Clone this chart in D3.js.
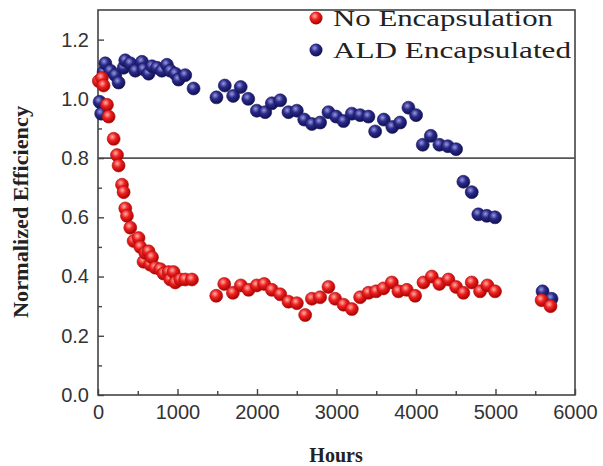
<!DOCTYPE html>
<html>
<head>
<meta charset="utf-8">
<script src="https://cdn.jsdelivr.net/npm/d3@7"></script>
<style>
  body { margin: 0; background: #fff; }
  svg { display: block; }
</style>
</head>
<body>
<div id="graph"></div>
<script>
// hours / normalized efficiency
var noEncHours = [10, 48, 70, 113, 134, 197, 239, 259, 302, 322, 343, 364, 406, 448, 510, 532, 573, 595, 636, 657, 679, 720, 783, 825, 888, 909, 950, 972, 1035, 1097, 1182,
  1487, 1588, 1697, 1797, 1894, 1998, 2090, 2187, 2292, 2396, 2501, 2606, 2690, 2794, 2899, 2983, 3088, 3193, 3297, 3402, 3498, 3590, 3696, 3779, 3884, 3989,
  4094, 4199, 4294, 4408, 4504, 4596, 4701, 4806, 4898, 4994, 5580, 5692];
var noEncValues = [1.06, 1.07, 1.045, 0.98, 0.94, 0.865, 0.81, 0.775, 0.71, 0.685, 0.63, 0.605, 0.565, 0.52, 0.53, 0.50, 0.45, 0.48, 0.485, 0.44, 0.465, 0.43, 0.425, 0.41, 0.415, 0.39, 0.415, 0.38, 0.39, 0.39, 0.39,
  0.335, 0.375, 0.345, 0.37, 0.355, 0.37, 0.375, 0.355, 0.34, 0.315, 0.31, 0.27, 0.325, 0.33, 0.365, 0.325, 0.305, 0.29, 0.33, 0.345, 0.35, 0.36, 0.38, 0.35, 0.355, 0.335,
  0.38, 0.40, 0.375, 0.39, 0.365, 0.345, 0.38, 0.35, 0.37, 0.35, 0.32, 0.30];

var aldHours = [20, 40, 70, 92, 155, 217, 259, 322, 343, 406, 469, 553, 573, 636, 679, 742, 804, 867, 909, 972, 1013, 1097, 1202,
  1490, 1595, 1700, 1795, 1890, 1998, 2103, 2187, 2292, 2396, 2501, 2594, 2690, 2794, 2899, 2996, 3088, 3193, 3297, 3402, 3486, 3595, 3702, 3800, 3905, 4001,
  4085, 4186, 4294, 4400, 4504, 4596, 4701, 4784, 4890, 4994, 5592, 5705];
var aldValues = [0.99, 0.95, 1.09, 1.12, 1.095, 1.08, 1.055, 1.105, 1.13, 1.12, 1.095, 1.125, 1.10, 1.085, 1.11, 1.105, 1.095, 1.115, 1.095, 1.085, 1.065, 1.08, 1.035,
  1.005, 1.045, 1.01, 1.04, 1.0, 0.96, 0.955, 0.985, 0.995, 0.955, 0.96, 0.93, 0.915, 0.92, 0.955, 0.94, 0.925, 0.95, 0.945, 0.94, 0.89, 0.93, 0.905, 0.92, 0.97, 0.945,
  0.845, 0.875, 0.845, 0.84, 0.83, 0.72, 0.685, 0.61, 0.605, 0.60, 0.35, 0.325];

var seriesNames = ["No Encapsulation", "ALD Encapsulated"];
var xTicks = [0, 1000, 2000, 3000, 4000, 5000, 6000];
var yTicks = [0.0, 0.2, 0.4, 0.6, 0.8, 1.0, 1.2];
var refLine = 0.8;

var W = 603, H = 466;
var margin = {top: 10, right: 28, bottom: 71, left: 98};

var svg = d3.select('#graph').append('svg')
    .attr('width', W)
    .attr('height', H);

var x = d3.scaleLinear().domain([0, 6000]).range([margin.left, W - margin.right]);
var y = d3.scaleLinear().domain([0, 1.3]).range([H - margin.bottom, margin.top]);

// sphere-like gradients for the balls
var defs = svg.append('defs');
function ballGrad(id, light, mid, dark) {
    var g = defs.append('radialGradient').attr('id', id)
        .attr('cx', '40%').attr('cy', '35%').attr('r', '65%');
    g.append('stop').attr('offset', '0%').style('stop-color', light);
    g.append('stop').attr('offset', '45%').style('stop-color', mid);
    g.append('stop').attr('offset', '100%').style('stop-color', dark);
}
ballGrad('redBall', '#ffb0a8', '#ee2020', '#a80000');
ballGrad('blueBall', '#9a9ade', '#2a2a8c', '#10104e');

// frame
svg.append('rect')
    .attr('x', x(0)).attr('y', y(1.3))
    .attr('width', x(6000) - x(0)).attr('height', y(0) - y(1.3))
    .style('fill', 'none').style('stroke', '#444').style('stroke-width', 1.6);

// 0.8 line
svg.append('line')
    .attr('x1', x(0)).attr('x2', x(6000))
    .attr('y1', y(refLine)).attr('y2', y(refLine))
    .style('stroke', '#555').style('stroke-width', 1.6);

// axes with ticks pointing inward
var xAxis = d3.axisBottom(x).tickValues(xTicks).tickSize(-6).tickPadding(10).tickFormat(d3.format('d'));
var xMinor = d3.axisBottom(x).tickValues(d3.range(500, 6000, 1000)).tickSize(-4).tickFormat('');
var yAxis = d3.axisLeft(y).tickValues(yTicks).tickSize(-6).tickPadding(9).tickFormat(d3.format('.1f'));
var yMinor = d3.axisLeft(y).tickValues([0.1, 0.3, 0.5, 0.7, 0.9, 1.1]).tickSize(-4).tickFormat('');

function styleAxis(g) {
    g.select('.domain').remove();
    g.selectAll('line').style('stroke', '#444').style('stroke-width', 1.4);
    g.selectAll('text')
        .style('font-family', '"Liberation Sans", Arial, sans-serif')
        .style('font-size', '20px')
        .style('fill', '#333');
}

svg.append('g').attr('transform', 'translate(0,' + y(0) + ')').call(xAxis).call(styleAxis);
svg.append('g').attr('transform', 'translate(0,' + y(0) + ')').call(xMinor).call(styleAxis);
svg.append('g').attr('transform', 'translate(' + x(0) + ',0)').call(yAxis).call(styleAxis);
svg.append('g').attr('transform', 'translate(' + x(0) + ',0)').call(yMinor).call(styleAxis);

// axis titles
svg.append('text')
    .attr('x', 336).attr('y', 462)
    .attr('text-anchor', 'middle')
    .style('font-family', '"Liberation Serif", "Times New Roman", serif')
    .style('font-weight', 'bold')
    .style('font-size', '20px')
    .style('fill', '#222')
    .text('Hours');

svg.append('text')
    .attr('transform', 'translate(28,' + 212 + ') rotate(-90)')
    .attr('text-anchor', 'middle')
    .attr('textLength', 212)
    .attr('lengthAdjust', 'spacingAndGlyphs')
    .style('font-family', '"Liberation Serif", "Times New Roman", serif')
    .style('font-weight', 'bold')
    .style('font-size', '21px')
    .style('fill', '#222')
    .text('Normalized Efficiency');

// points
var ald = aldHours.map(function (h, i) { return {h: h, v: aldValues[i]}; });
var noEnc = noEncHours.map(function (h, i) { return {h: h, v: noEncValues[i]}; });
var r = 6.5;

svg.append('g').selectAll('circle')
    .data(ald).enter().append('circle')
    .attr('cx', function (d) { return x(d.h); })
    .attr('cy', function (d) { return y(d.v); })
    .attr('r', r)
    .style('fill', 'url(#blueBall)')
    .style('stroke', '#1a1a60').style('stroke-width', 0.6);

svg.append('g').selectAll('circle')
    .data(noEnc).enter().append('circle')
    .attr('cx', function (d) { return x(d.h); })
    .attr('cy', function (d) { return y(d.v); })
    .attr('r', r)
    .style('fill', 'url(#redBall)')
    .style('stroke', '#b01010').style('stroke-width', 0.6);

// legend
var legend = svg.append('g');
var legFills = ['url(#redBall)', 'url(#blueBall)'];
var legWidths = [220, 238];
seriesNames.forEach(function (name, i) {
    var ly = 18 + i * 32;
    legend.append('circle')
        .attr('cx', 316).attr('cy', ly).attr('r', r)
        .style('fill', legFills[i]);
    legend.append('text')
        .attr('x', 333).attr('y', ly + 8)
        .attr('textLength', legWidths[i])
        .attr('lengthAdjust', 'spacingAndGlyphs')
        .style('font-family', '"Liberation Serif", "Times New Roman", serif')
        .style('font-size', '23px')
        .style('fill', '#222')
        .text(name);
});
</script>
</body>
</html>
